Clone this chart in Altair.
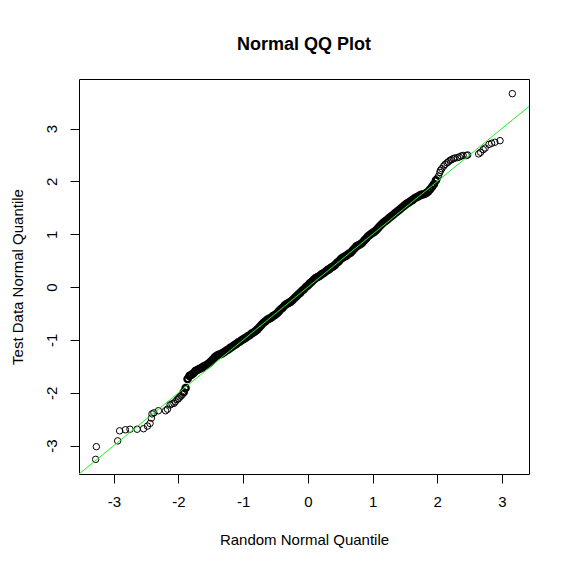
import altair as alt
import pandas as pd

# ---- data ----
lower_x = [-3.28, -3.27, -2.94, -2.91, -2.82, -2.75, -2.64, -2.54, -2.48, -2.44, -2.42, -2.41, -2.38,
           -2.31, -2.20, -2.17, -2.13, -2.10, -2.07, -2.05, -2.02, -2.00, -1.98, -1.96, -1.94]
lower_y = [-3.26, -3.02, -2.91, -2.72, -2.70, -2.69, -2.69, -2.68, -2.63, -2.58, -2.48, -2.40, -2.38,
           -2.34, -2.34, -2.31, -2.23, -2.21, -2.20, -2.17, -2.13, -2.11, -2.08, -2.06, -2.03]

band_x = [-1.92, -1.89, -1.86, -1.83, -1.80, -1.77, -1.74, -1.71, -1.68, -1.65,
          -1.62, -1.59, -1.56, -1.53, -1.50, -1.47, -1.44, -1.41, -1.38, -1.35,
          -1.32, -1.29, -1.26, -1.23, -1.20, -1.17, -1.14, -1.11, -1.08, -1.05,
          -1.02, -0.99, -0.96, -0.93, -0.90, -0.87, -0.84, -0.81, -0.78, -0.75,
          -0.72, -0.69, -0.66, -0.63, -0.60, -0.57, -0.54, -0.51, -0.48, -0.45,
          -0.42, -0.39, -0.36, -0.33, -0.30, -0.27, -0.24, -0.21, -0.18, -0.15,
          -0.12, -0.09, -0.06, -0.03, 0.00, 0.03, 0.06, 0.09, 0.12, 0.15,
          0.18, 0.21, 0.24, 0.27, 0.30, 0.33, 0.36, 0.39, 0.42, 0.45,
          0.48, 0.51, 0.54, 0.57, 0.60, 0.63, 0.66, 0.69, 0.72, 0.75,
          0.78, 0.81, 0.84, 0.87, 0.90, 0.93, 0.96, 0.99, 1.02, 1.05,
          1.08, 1.11, 1.14, 1.17, 1.20, 1.23, 1.26, 1.29, 1.32, 1.35,
          1.38, 1.41, 1.44, 1.47, 1.50, 1.53, 1.56, 1.59, 1.62, 1.65,
          1.68, 1.71, 1.74, 1.77, 1.80, 1.83, 1.86, 1.89, 1.92, 1.95, 1.98]
band_y = [-1.99, -1.91, -1.74, -1.68, -1.66, -1.63, -1.59, -1.57, -1.55, -1.53,
          -1.51, -1.49, -1.47, -1.44, -1.41, -1.37, -1.33, -1.30, -1.28, -1.27,
          -1.25, -1.23, -1.20, -1.18, -1.15, -1.13, -1.10, -1.08, -1.05, -1.03,
          -1.00, -0.98, -0.96, -0.93, -0.91, -0.88, -0.86, -0.83, -0.80, -0.76,
          -0.72, -0.68, -0.65, -0.62, -0.60, -0.58, -0.55, -0.53, -0.50, -0.46,
          -0.42, -0.39, -0.35, -0.32, -0.30, -0.28, -0.25, -0.21, -0.18, -0.14,
          -0.11, -0.07, -0.04, 0.00, 0.03, 0.07, 0.10, 0.14, 0.17, 0.19,
          0.21, 0.24, 0.26, 0.29, 0.32, 0.34, 0.37, 0.39, 0.42, 0.46,
          0.49, 0.53, 0.56, 0.58, 0.60, 0.63, 0.65, 0.69, 0.73, 0.77,
          0.79, 0.81, 0.84, 0.88, 0.92, 0.96, 0.99, 1.02, 1.04, 1.07,
          1.11, 1.15, 1.19, 1.22, 1.25, 1.28, 1.31, 1.34, 1.37, 1.40,
          1.43, 1.46, 1.49, 1.52, 1.55, 1.58, 1.60, 1.63, 1.65, 1.68,
          1.70, 1.72, 1.74, 1.75, 1.76, 1.78, 1.81, 1.85, 1.90, 1.95, 2.02]

upper_x = [2.00, 2.02, 2.04, 2.05, 2.07, 2.10, 2.12, 2.15, 2.17, 2.20, 2.22, 2.25, 2.27, 2.31,
           2.34, 2.37, 2.40, 2.45, 2.47, 2.64, 2.67, 2.71, 2.74, 2.80, 2.84, 2.89, 2.97, 3.16]
upper_y = [2.06, 2.10, 2.17, 2.21, 2.24, 2.29, 2.32, 2.35, 2.37, 2.40, 2.41, 2.43, 2.44, 2.45,
           2.46, 2.48, 2.49, 2.49, 2.50, 2.52, 2.55, 2.60, 2.63, 2.70, 2.72, 2.74, 2.77, 3.66]

tick_values = [-3, -2, -1, 0, 1, 2, 3]
x_domain = [-3.538, 3.418]
y_domain = [-3.537, 3.937]
abline_intercept = 0.0
abline_slope = 1.0

tails = pd.DataFrame({"x": lower_x + upper_x, "y": lower_y + upper_y})
nb = min(len(band_x), len(band_y))
band = pd.DataFrame({"x": band_x[:nb], "y": band_y[:nb]})
line_df = pd.DataFrame({"x": x_domain,
                        "y": [abline_intercept + abline_slope * v for v in x_domain]})

FONT = "Liberation Sans"
xs = alt.Scale(domain=x_domain, nice=False, zero=False)
ys = alt.Scale(domain=y_domain, nice=False, zero=False)

x_axis = alt.Axis(title="Random Normal Quantile", values=tick_values,
                  labelExpr="'' + datum.value",
                  labelPadding=11, titleY=70.7, titleBaseline="alphabetic")
y_axis = alt.Axis(title="Test Data Normal Quantile", values=tick_values,
                  labelExpr="'' + datum.value",
                  labelAngle=-90, labelAlign="center", labelBaseline="alphabetic",
                  labelPadding=14, titleX=-56.3, titleY=197.5, titleAngle=-90,
                  titleAlign="center", titleBaseline="alphabetic")

tail_pts = alt.Chart(tails).mark_point(shape="circle", filled=False, color="black",
                                       strokeWidth=1, size=42, opacity=1).encode(
    x=alt.X("x:Q", scale=xs, axis=x_axis),
    y=alt.Y("y:Q", scale=ys, axis=y_axis),
)

band_pts = alt.Chart(band).mark_point(shape="circle", filled=False, color="black",
                                      strokeWidth=2.4, size=38, opacity=1).encode(
    x=alt.X("x:Q", scale=xs),
    y=alt.Y("y:Q", scale=ys),
)

line = alt.Chart(line_df).mark_line(color="#22ee22", strokeWidth=1, clip=True).encode(
    x=alt.X("x:Q", scale=xs),
    y=alt.Y("y:Q", scale=ys),
)

chart = alt.layer(tail_pts, band_pts, line).properties(
    width=450,
    height=395,
    title=alt.TitleParams(text="Normal QQ Plot", font=FONT, fontSize=18, fontWeight="bold",
                          color="black", anchor="middle", baseline="alphabetic", offset=11),
    autosize=alt.AutoSizeParams(type="none"),
    padding={"left": 71, "top": 71, "right": 20, "bottom": 80},
).configure_view(
    stroke="black", strokeWidth=1
).configure_axis(
    domain=False, grid=False, ticks=True, tickColor="black", tickSize=9, tickWidth=1,
    labelFont=FONT, labelFontSize=15, labelColor="black", labelFlush=False, labelOverlap=False,
    titleFont=FONT, titleFontSize=15, titleFontWeight="normal", titleColor="black",
)

chart.save("out.html", embed_options={"renderer": "svg", "actions": False})
